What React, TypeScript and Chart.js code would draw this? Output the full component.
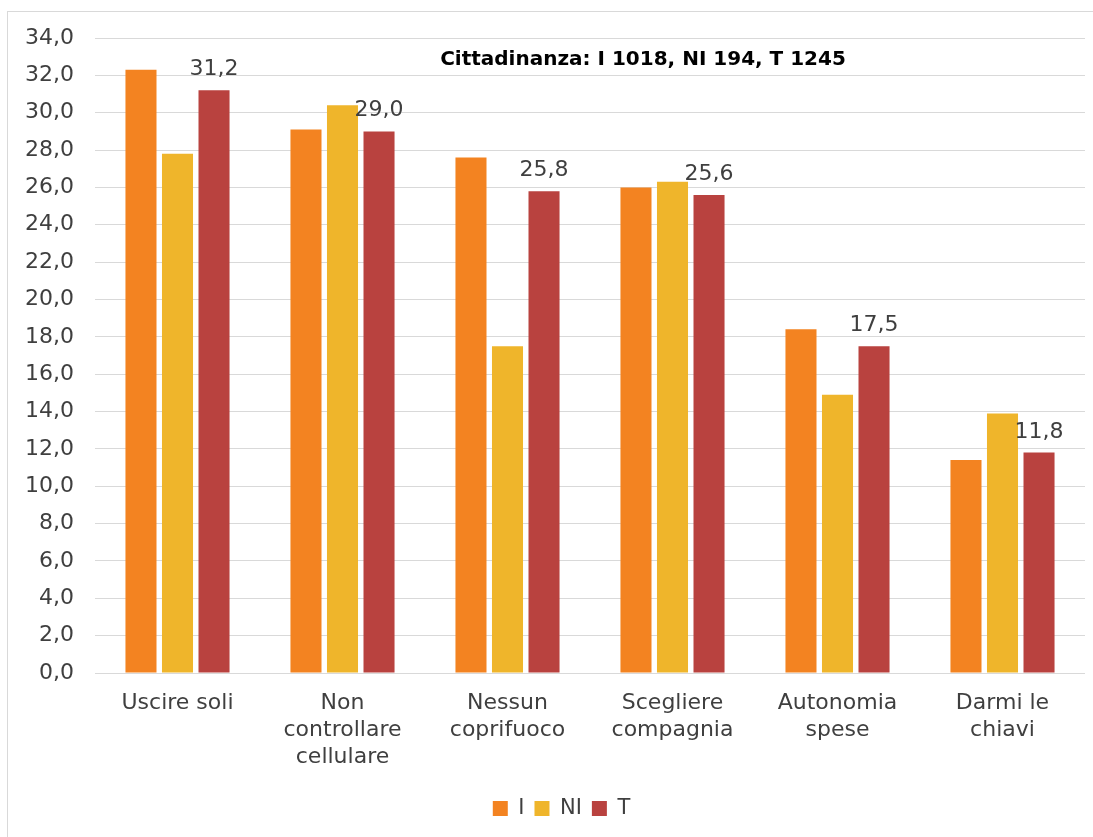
import React, { useEffect, useRef } from "react";
import { Chart, registerables } from "chart.js";

Chart.register(...registerables);

const categories: string[][] = [
  ["Uscire soli"],
  ["Non", "controllare", "cellulare"],
  ["Nessun", "coprifuoco"],
  ["Scegliere", "compagnia"],
  ["Autonomia", "spese"],
  ["Darmi le", "chiavi"],
];
const seriesI: number[] = [32.3, 29.1, 27.6, 26.0, 18.4, 11.4];
const seriesNI: number[] = [27.8, 30.4, 17.5, 26.3, 14.9, 13.9];
const seriesT: number[] = [31.2, 29.0, 25.8, 25.6, 17.5, 11.8];
const seriesNames: string[] = ["I", "NI", "T"];
const titleText = "Cittadinanza: I 1018, NI 194, T 1245";

const FONT = "'DejaVu Sans', sans-serif";
const TEXT = "#3f3f3f";
const fmt = (v: number) => v.toFixed(1).replace(".", ",");

const overlayPlugin = {
  id: "overlay",
  afterLayout(chart: any) {
    if (chart.legend) {
      chart.legend.left += 10;
      chart.legend.right += 10;
    }
  },
  afterDatasetsDraw(chart: any) {
    const ctx = chart.ctx;
    const area = chart.chartArea;
    ctx.save();
    // data labels on T series
    const meta = chart.getDatasetMeta(2);
    ctx.font = `22px ${FONT}`;
    ctx.fillStyle = TEXT;
    ctx.textAlign = "center";
    ctx.textBaseline = "alphabetic";
    meta.data.forEach((bar: any, i: number) => {
      ctx.fillText(fmt(seriesT[i]), bar.x, bar.y - 15);
    });
    // title
    ctx.font = `bold 20px ${FONT}`;
    ctx.fillStyle = "#000000";
    ctx.fillText(titleText, area.left + 548, area.top + 27);
    ctx.restore();
  },
};

export default function App() {
  const ref = useRef<HTMLCanvasElement | null>(null);
  useEffect(() => {
    if (!ref.current) return;
    const chart = new Chart(ref.current, {
      type: "bar",
      data: {
        labels: categories,
        datasets: [
          { label: seriesNames[0], data: seriesI, backgroundColor: "#F38321" },
          { label: seriesNames[1], data: seriesNI, backgroundColor: "#EFB52B" },
          { label: seriesNames[2], data: seriesT, backgroundColor: "#B9423F" },
        ],
      },
      options: {
        animation: false,
        responsive: false,
        layout: { padding: { left: 10, right: 8, top: 26, bottom: 8 } },
        datasets: { bar: { categoryPercentage: 0.664, barPercentage: 0.85 } },
        scales: {
          x: {
            grid: { display: false, drawTicks: false },
            border: { display: false },
            ticks: {
              color: TEXT,
              font: { family: FONT, size: 22, lineHeight: 1.227 },
              padding: 17,
              maxRotation: 0,
              autoSkip: false,
            },
            afterFit: (s: any) => {
              s.height = 115;
            },
          },
          y: {
            min: 0,
            max: 34,
            grid: { color: "#d9d9d9", lineWidth: 1, drawTicks: false },
            border: { display: false },
            ticks: {
              stepSize: 2,
              color: TEXT,
              font: { family: FONT, size: 22 },
              padding: 21,
              callback: (v: any) => fmt(Number(v)),
            },
            afterFit: (s: any) => {
              s.width = 77;
              s.paddingTop = 0;
              s.paddingBottom = 0;
            },
          },
        },
        plugins: {
          legend: {
            position: "bottom",
            labels: {
              boxWidth: 15,
              boxHeight: 15,
              padding: 10,
              color: TEXT,
              font: { family: FONT, size: 21 },
            },
          },
          tooltip: { enabled: false },
          title: { display: false },
        },
      },
      plugins: [overlayPlugin],
    });
    return () => chart.destroy();
  }, []);
  return (
    <div
      style={{
        position: "fixed",
        left: 7,
        top: 11,
        width: 1085,
        height: 826,
        borderLeft: "1px solid #d9d9d9",
        borderTop: "1px solid #d9d9d9",
        background: "#fff",
      }}
    >
      <canvas ref={ref} width={1085} height={825} style={{ display: "block" }} />
    </div>
  );
}
